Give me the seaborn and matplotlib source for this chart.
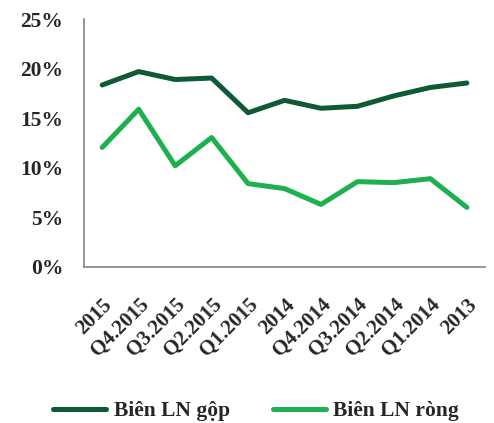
import pandas as pd
import numpy as np
import seaborn as sns
import matplotlib.pyplot as plt
from matplotlib.ticker import FuncFormatter

# values (percent)
periods = ['2015', 'Q4.2015', 'Q3.2015', 'Q2.2015', 'Q1.2015', '2014',
           'Q4.2014', 'Q3.2014', 'Q2.2014', 'Q1.2014', '2013']
gross_margin = [18.35, 19.7, 18.9, 19.05, 15.55, 16.8, 16.0, 16.2, 17.25, 18.1, 18.55]
net_margin = [12.05, 15.9, 10.2, 13.05, 8.4, 7.9, 6.3, 8.6, 8.5, 8.9, 6.0]

series_names = ['Biên LN gộp', 'Biên LN ròng']
colors = ['#0D5A34', '#1DB04E']

data = pd.DataFrame({
    'period': periods * 2,
    'value': gross_margin + net_margin,
    'series': [series_names[0]] * len(periods) + [series_names[1]] * len(periods),
})

sns.set_style('white')
plt.rcParams['font.family'] = ['Liberation Serif', 'DejaVu Serif']
plt.rcParams['font.weight'] = 'bold'

fig = plt.figure(figsize=(4.94, 4.23), dpi=100)
ax = fig.add_axes([0.170, 0.369, 0.812, 0.586])

sns.lineplot(data=data, x='period', y='value', hue='series', sort=False,
             palette=colors, linewidth=3.6, ax=ax, legend=False)

ax.set_xlim(-0.5, len(periods) - 0.5)
ax.set_ylim(0, 25)
ax.set_yticks(np.arange(0, 26, 5))
ax.yaxis.set_major_formatter(FuncFormatter(lambda v, p: f'{v:.0f}%'))
ax.set_xlabel('')
ax.set_ylabel('')

# x ticks marks between categories, labels at centres
ax.set_xticks(np.arange(len(periods)))
ax.set_xticklabels(periods, rotation=45, ha='right', rotation_mode='anchor',
                   fontsize=15, fontweight='bold')
ax.set_xticks(np.arange(-0.5, len(periods)), minor=True)
ax.tick_params(axis='x', which='major', length=0, pad=20)
ax.tick_params(axis='x', which='minor', length=5, color='#8C8C8C', width=1.3, direction='out')
ax.tick_params(axis='y', length=5, color='#8C8C8C', width=1.3, direction='out',
               labelsize=15.5, pad=10)
for lab in ax.get_yticklabels():
    lab.set_fontweight('bold')

for side in ['top', 'right']:
    ax.spines[side].set_visible(False)
for side in ['left', 'bottom']:
    ax.spines[side].set_color('#8C8C8C')
    ax.spines[side].set_linewidth(1.3)

handles = [plt.Line2D([], [], color=c, linewidth=3.6) for c in colors]
fig.legend(handles, series_names, loc='center left', bbox_to_anchor=(0.108, 0.028),
           ncol=2, frameon=False, handlelength=2.45, columnspacing=2.0,
           handletextpad=0.35, borderpad=0.0, borderaxespad=0.0,
           prop={'size': 15.5, 'weight': 'bold'})

fig.savefig('out.png', dpi=100)
